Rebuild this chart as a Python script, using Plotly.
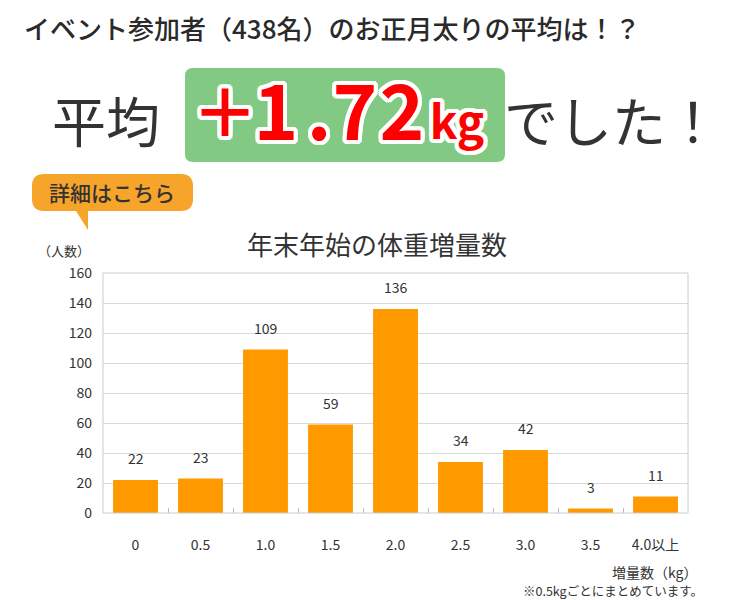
import plotly.graph_objects as go

categories = ["0", "0.5", "1.0", "1.5", "2.0", "2.5", "3.0", "3.5", "4.0以上"]
counts = [22, 23, 109, 59, 136, 34, 42, 3, 11]
y_ticks = [0, 20, 40, 60, 80, 100, 120, 140, 160]

# headline value, split into glyphs
value_glyphs = ["＋", "1", ".", "7", "2", "kg"]

W, H = 730, 600
L, R, T, B = 103, 688, 273, 513
FONT = "Noto Sans CJK JP"
DARK = "#333333"

def px(x):
    return x / W

def py(y):
    return 1 - y / H

def rrect(x0, y0, x1, y1, r):
    pts = [
        f"M {px(x0 + r)} {py(y0)}",
        f"L {px(x1 - r)} {py(y0)}",
        f"Q {px(x1)} {py(y0)} {px(x1)} {py(y0 + r)}",
        f"L {px(x1)} {py(y1 - r)}",
        f"Q {px(x1)} {py(y1)} {px(x1 - r)} {py(y1)}",
        f"L {px(x0 + r)} {py(y1)}",
        f"Q {px(x0)} {py(y1)} {px(x0)} {py(y1 - r)}",
        f"L {px(x0)} {py(y0 + r)}",
        f"Q {px(x0)} {py(y0)} {px(x0 + r)} {py(y0)}",
        "Z",
    ]
    return " ".join(pts)

def bubble(x0, y0, x1, y1, r, tx0, tx1, tipx, tipy):
    pts = [
        f"M {px(x0 + r)} {py(y0)}",
        f"L {px(x1 - r)} {py(y0)}",
        f"Q {px(x1)} {py(y0)} {px(x1)} {py(y0 + r)}",
        f"L {px(x1)} {py(y1 - r)}",
        f"Q {px(x1)} {py(y1)} {px(x1 - r)} {py(y1)}",
        f"L {px(tx1)} {py(y1)}",
        f"L {px(tipx)} {py(tipy)}",
        f"L {px(tx0)} {py(y1)}",
        f"L {px(x0 + r)} {py(y1)}",
        f"Q {px(x0)} {py(y1)} {px(x0)} {py(y1 - r)}",
        f"L {px(x0)} {py(y0 + r)}",
        f"Q {px(x0)} {py(y0)} {px(x0 + r)} {py(y0)}",
        "Z",
    ]
    return " ".join(pts)

fig = go.Figure()
fig.add_trace(go.Bar(
    x=list(range(len(categories))), y=counts,
    marker=dict(color="#FF9900", line=dict(width=0)),
    width=0.69,
    hoverinfo="skip",
))

# outlined headline value drawn as text on a full-page pixel axis
outline = ", ".join(
    f"{dx}px {dy}px 0 #ffffff"
    for dx, dy in [(-4, 0), (4, 0), (0, -4), (0, 4), (-3, -3), (3, -3), (-3, 3), (3, 3),
                   (-2, -4), (2, -4), (-2, 4), (2, 4), (-4, -2), (4, -2), (-4, 2), (4, 2)]
)
fig.add_trace(go.Scatter(
    x=[225, 276, 319, 355, 402, 457],
    y=[120, 121, 121, 121, 121, 127],
    xaxis="x2", yaxis="y2",
    mode="text", text=value_glyphs, textposition="middle center",
    textfont=dict(family=FONT, size=[66, 76, 76, 76, 76, 46], color="#FF0000",
                  weight="bold", shadow=outline),
    cliponaxis=False, hoverinfo="skip",
))

annotations = []
for i, v in enumerate(counts):
    annotations.append(dict(
        x=i, y=v, xref="x", yref="y", text=str(v), showarrow=False,
        yanchor="middle", yshift=22,
        font=dict(family=FONT, size=14, color=DARK),
    ))

def txt(text, x, y, size, color=DARK, xanchor="center", weight="normal", family=FONT):
    annotations.append(dict(
        x=px(x), y=py(y), xref="paper", yref="paper", text=text,
        showarrow=False, xanchor=xanchor, yanchor="middle",
        font=dict(family=family, size=size, color=color, weight=weight),
    ))

txt("イベント参加者（438名）のお正月太りの平均は！？", 22, 27, 26, color="#2a2a2a",
    xanchor="left", weight=500)
txt("平均", 106, 120, 54)
txt("でした！", 612, 120, 54)
txt("詳細はこちら", 112, 192, 21, weight=500)
txt("年末年始の体重増量数", 377, 243, 26)
txt("（人数）", 64, 250, 13)
txt("増量数（kg）", 654, 572, 14)
txt("※0.5kgごとにまとめています。", 613, 590, 12.5)

shapes = [
    dict(type="path", xref="paper", yref="paper", path=rrect(185, 68, 505, 162, 8),
         fillcolor="#82CA84", line=dict(width=0), layer="below"),
    dict(type="path", xref="paper", yref="paper",
         path=bubble(32, 174, 193, 211, 12, 76, 88, 88, 230),
         fillcolor="#F7A42B", line=dict(width=0), layer="below"),
    dict(type="rect", xref="paper", yref="paper", x0=px(L), y0=py(B), x1=px(R), y1=py(T),
         line=dict(color="#cccccc", width=1), fillcolor="rgba(0,0,0,0)", layer="above"),
]

fig.update_layout(
    width=W, height=H,
    margin=dict(l=0, r=0, t=0, b=0, autoexpand=False),
    paper_bgcolor="white", plot_bgcolor="rgba(0,0,0,0)",
    showlegend=False,
    annotations=annotations,
    shapes=shapes,
    font=dict(family=FONT, color=DARK),
    xaxis=dict(
        domain=[px(L), px(R)], anchor="y", automargin=False,
        tickmode="array", tickvals=list(range(len(categories))), ticktext=categories,
        range=[-0.5, len(categories) - 0.5],
        showgrid=False, zeroline=False, ticks="",
        tickfont=dict(family=FONT, size=14, color=DARK),
        ticklabelstandoff=22, showline=False, fixedrange=True,
        minor=dict(tickvals=[i + 0.5 for i in range(len(categories) - 1)],
                   ticks="inside", ticklen=5, tickcolor="#bbbbbb", showgrid=False),
    ),
    yaxis=dict(
        domain=[py(B), py(T)], anchor="x", automargin=False,
        range=[0, 160], tickvals=y_ticks, showgrid=True, gridcolor="#d9d9d9",
        gridwidth=1, zeroline=False, showline=False, ticks="",
        tickfont=dict(family=FONT, size=14, color=DARK),
        ticklabelstandoff=10, fixedrange=True,
    ),
    xaxis2=dict(domain=[0, 1], anchor="y2", range=[0, W], visible=False,
                fixedrange=True, automargin=False),
    yaxis2=dict(domain=[0, 1], anchor="x2", range=[H, 0], visible=False,
                fixedrange=True, automargin=False),
)

fig.write_html("out.html")
